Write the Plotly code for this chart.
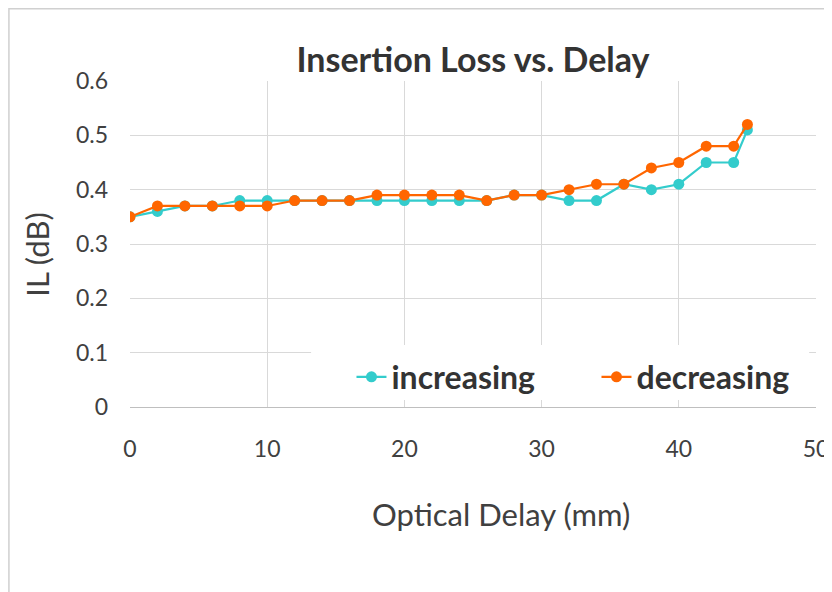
import plotly.graph_objects as go

delay_mm = [0, 2, 4, 6, 8, 10, 12, 14, 16, 18, 20, 22, 24, 26, 28, 30, 32, 34, 36, 38, 40, 42, 44, 45]
il_increasing = [0.35, 0.36, 0.37, 0.37, 0.38, 0.38, 0.38, 0.38, 0.38, 0.38, 0.38, 0.38, 0.38, 0.38,
                 0.39, 0.39, 0.38, 0.38, 0.41, 0.40, 0.41, 0.45, 0.45, 0.51]
il_decreasing = [0.35, 0.37, 0.37, 0.37, 0.37, 0.37, 0.38, 0.38, 0.38, 0.39, 0.39, 0.39, 0.39, 0.38,
                 0.39, 0.39, 0.40, 0.41, 0.41, 0.44, 0.45, 0.48, 0.48, 0.52]
x_ticks = [0, 10, 20, 30, 40, 50]
y_ticks = [0, 0.1, 0.2, 0.3, 0.4, 0.5, 0.6]
y_tick_labels = ["0", "0.1", "0.2", "0.3", "0.4", "0.5", "0.6"]

FONT = "Lato"
TXT = "#404040"
W, H = 824, 584
X_RANGE = [0, 50]
Y_RANGE = [0, 0.6]

fig = go.Figure()
fig.add_trace(go.Scatter(x=delay_mm, y=il_increasing, name="increasing", mode="lines+markers",
                         line=dict(color="#33CCCC", width=2.2),
                         marker=dict(color="#33CCCC", size=11)))
fig.add_trace(go.Scatter(x=delay_mm, y=il_decreasing, name="decreasing", mode="lines+markers",
                         line=dict(color="#FF6600", width=2.2),
                         marker=dict(color="#FF6600", size=11)))

fig.update_layout(
    width=W, height=H,
    margin=dict(l=122, r=W - 808, t=73, b=H - 399, autoexpand=False),
    paper_bgcolor="white", plot_bgcolor="white",
    font=dict(family=FONT, color=TXT, size=23),
    title=dict(text="<b>Insertion Loss vs. Delay</b>", x=0.5, xref="paper", xanchor="center",
               y=1 - 52 / H, yref="container", yanchor="middle",
               font=dict(size=34, color="#333333", family=FONT)),
    xaxis=dict(range=X_RANGE, tickvals=x_ticks, showgrid=True, gridcolor="#d9d9d9", gridwidth=1,
               zeroline=False, showline=True, linecolor="#bfbfbf", linewidth=1, mirror=False,
               ticks="", ticklabelstandoff=21, tickfont=dict(size=23, color=TXT)),
    yaxis=dict(range=Y_RANGE, tickvals=y_ticks, ticktext=y_tick_labels, showgrid=True,
               gridcolor="#d9d9d9", gridwidth=1, zeroline=False, showline=False,
               ticks="", ticklabelstandoff=21, tickfont=dict(size=23, color=TXT)),
    legend=dict(orientation="h", x=0.680, y=0.092, xanchor="center", yanchor="middle",
                bgcolor="rgba(0,0,0,0)",
                font=dict(size=32, color="#333333", family=FONT, weight="bold"),
                entrywidth=200, entrywidthmode="pixels", traceorder="normal"),
    showlegend=True,
)

# axis titles placed as annotations (Excel-style offset positions)
fig.add_annotation(text="Optical Delay (mm)", xref="paper", yref="paper", x=0.541, y=-0.3285,
                   xanchor="center", yanchor="middle", showarrow=False,
                   font=dict(size=31, color=TXT, family=FONT))
fig.add_annotation(text="IL (dB)", xref="paper", yref="paper", x=-0.1356, y=0.467,
                   xanchor="center", yanchor="middle", showarrow=False, textangle=-90,
                   font=dict(size=31, color=TXT, family=FONT))

# white legend box hiding the gridlines behind the legend (fractions of the plot area)
bx0, bx1, by0, by1 = 0.264, 0.990, 0.0215, 0.19
fig.add_shape(type="rect", xref="x", yref="y",
              x0=X_RANGE[0] + bx0 * (X_RANGE[1] - X_RANGE[0]),
              x1=X_RANGE[0] + bx1 * (X_RANGE[1] - X_RANGE[0]),
              y0=Y_RANGE[0] + by0 * (Y_RANGE[1] - Y_RANGE[0]),
              y1=Y_RANGE[0] + by1 * (Y_RANGE[1] - Y_RANGE[0]),
              line=dict(width=0), fillcolor="white", layer="between")

# chart outer border
fig.add_shape(type="rect", xref="paper", yref="paper", x0=-0.1765, x1=1.2, y0=-0.7, y1=1.222,
              line=dict(color="#d0d0d0", width=1.5), fillcolor="rgba(0,0,0,0)", layer="below")

fig.write_html("out.html")
